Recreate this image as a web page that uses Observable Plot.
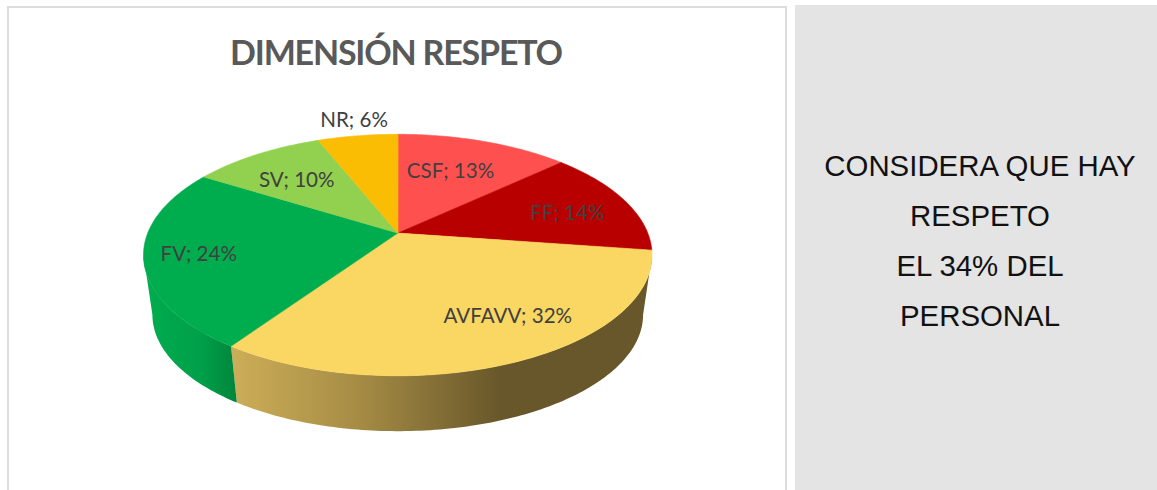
<!DOCTYPE html>
<html>
<head>
<meta charset="utf-8">
<script src="https://cdn.jsdelivr.net/npm/d3@7"></script>
<script src="https://cdn.jsdelivr.net/npm/@observablehq/plot@0.6"></script>
<style>
html,body{margin:0;padding:0;background:#fff;overflow:hidden;width:1157px;height:490px}
#frame{position:absolute;left:7px;top:6px;width:776px;height:490px;border:2px solid #dcdcdc;border-bottom:none;background:#fff}
#title{position:absolute;left:-1px;width:794px;top:31px;text-align:center;font:bold 34px Lato,"Open Sans",sans-serif;color:#595959;letter-spacing:-1.2px}
#side{position:absolute;left:795px;top:5px;width:362px;height:485px;background:#e4e4e4;font:29.4px "Liberation Sans",Arial,sans-serif;color:#111;text-align:center;line-height:50px;box-sizing:border-box;padding-top:136px;padding-left:8px}
#chart{position:absolute;left:0;top:0}
</style>
</head>
<body>
<div id="frame"></div>
<div id="title">DIMENSIÓN RESPETO</div>
<div id="chart"></div>
<div id="side">CONSIDERA QUE HAY<br>RESPETO<br>EL 34% DEL<br>PERSONAL</div>
<script>
const categories = ["CSF","FF","AVFAVV","FV","SV","NR"];
const percents = [13,14,32,24,10,6];
const colors = ["#ff5050","#b90000","#fad662","#00ad4e","#92d050","#fbbc04"];
const labelAlong = [.46,.57,.43,.49,.45,.53];
const labelRadius = [.63,.72,.74,.79,.66,1.19];

const p = -0.1818, shrink = 0.965, depth = 0.5;
const total = d3.sum(percents);
const project = (r, phi, s = 1, dy = 0) => {
  const u = r * Math.sin(phi), v = -r * Math.cos(phi), w = 1 + p * v;
  return {x: s * Math.sqrt(1 - p * p) * u / w, y: s * (1 - p * p) * v / w + dy};
};
let acc = 0;
const slices = categories.map((name, i) => {
  const a0 = acc / total * 2 * Math.PI;
  acc += percents[i];
  return {name, value: percents[i], color: colors[i], a0, a1: acc / total * 2 * Math.PI, i};
});
const arc = (a0, a1, s, dy) => {
  const n = Math.max(2, Math.ceil((a1 - a0) * 60));
  return d3.range(n + 1).map(k => project(1, a0 + (a1 - a0) * k / n, s, dy));
};
const topPoly = d => [project(0, 0), ...arc(d.a0, d.a1, 1, 0)];
// the wall is visible only between the rim's left and right silhouette points
const silhouette = Math.acos(p);
const wallPoly = d => {
  const a0 = Math.max(d.a0, silhouette), a1 = Math.min(d.a1, 2 * Math.PI - silhouette);
  return [...arc(a0, a1, 1, 0), ...arc(a0, a1, shrink, depth).reverse()];
};
const labels = slices.map((d, i) => {
  const q = project(labelRadius[i], d.a0 + (d.a1 - d.a0) * labelAlong[i]);
  return {...q, text: `${d.name}; ${d.value}%`};
});

const polyMark = (pts, fill, stroke) => Plot.line(pts, {x: "x", y: "y", curve: "linear-closed", fill, stroke: stroke || "none", strokeWidth: .6});

const defs = () => {
  const d = d3.create("svg:defs");
  const grad = (id, stops) => {
    const g = d.append("linearGradient").attr("id", id).attr("x1", 0).attr("x2", 1).attr("y1", 0).attr("y2", 0);
    stops.forEach(([o, c]) => g.append("stop").attr("offset", o).attr("stop-color", c));
  };
  grad("wallGold", [[0, "#cdae58"], [.3, "#a68c45"], [.64, "#68572a"], [1, "#68572a"]]);
  grad("wallGreen", [[0, "#00ad4e"], [.6, "#00a049"], [1, "#00853c"]]);
  return d.node();
};

const wall = {AVFAVV: "url(#wallGold)", FV: "url(#wallGreen)"};
const chart = Plot.plot({
  width: 1157, height: 490,
  margin: 0,
  style: {background: "transparent"},
  x: {domain: [-1, 1], range: [143, 651.5], axis: null},
  y: {domain: [-.818, 1.182], range: [133.8, 375.3], axis: null},
  marks: [
    defs,
    ...slices.filter(d => wall[d.name]).map(d => polyMark(wallPoly(d), wall[d.name])),
    ...slices.map(d => polyMark(topPoly(d), d.color, d.color)),
    Plot.text(labels, {x: "x", y: "y", text: "text", fill: "#404040", fontSize: 20.6, fontFamily: "Lato, 'Open Sans', sans-serif"})
  ]
});
document.getElementById("chart").appendChild(chart);
</script>
</body>
</html>
